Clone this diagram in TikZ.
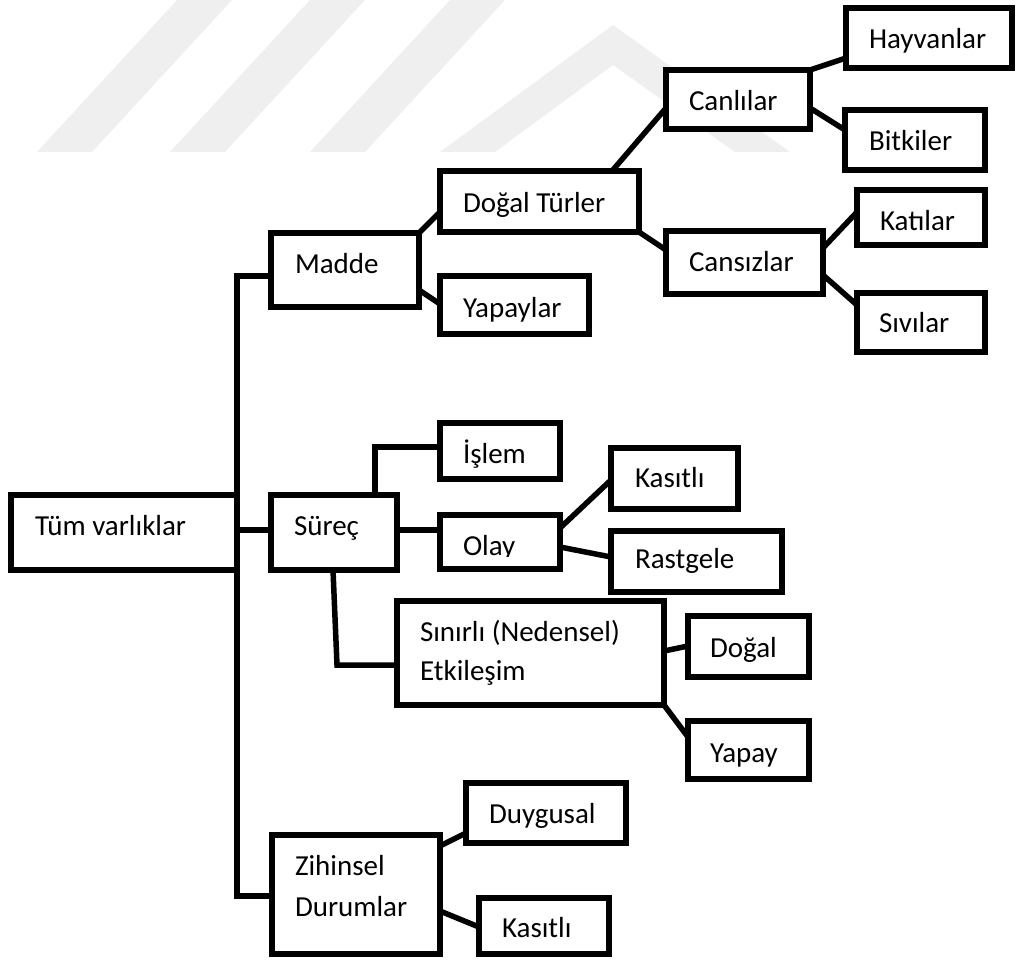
\documentclass[tikz,border=0pt]{standalone}
\usepackage{fontspec}
\setmainfont{Carlito}
\definecolor{wm}{HTML}{EFEFEF}
\begin{document}
\begin{tikzpicture}[x=1pt,y=-1pt]
\tikzset{
 box/.style={draw=black, fill=white, line width=5.8pt, inner sep=0pt, outer sep=0pt},
 conn/.style={draw=black, line width=5.5pt},
 lbl/.style={anchor=base west, inner sep=0pt, outer sep=0pt, font=\fontsize{29}{35}\selectfont},
 wmark/.style={fill=wm, draw=none}
}
\useasboundingbox (0,0) rectangle (1016,959);
% watermark
\fill[wmark] (37,152) -- (92,152) -- (232,0) -- (177,0) -- cycle;
\fill[wmark] (170,152) -- (225,152) -- (365,0) -- (310,0) -- cycle;
\fill[wmark] (310,152) -- (365,152) -- (505,0) -- (450,0) -- cycle;
\fill[wmark] (440,152) -- (613,25) -- (790,152) -- (735,152) -- (613,65) -- (495,152) -- cycle;

% boxes
\node[box, minimum width=226pt, minimum height=75pt] (tum) at (124,532.5) {};
\node[box, minimum width=148pt, minimum height=74pt] (madde) at (345,270) {};
\node[box, minimum width=199pt, minimum height=61pt] (dogal) at (539.5,201.5) {};
\node[box, minimum width=149pt, minimum height=58pt] (yapaylar) at (514.5,305) {};
\node[box, minimum width=144pt, minimum height=59pt] (canlilar) at (738,99.5) {};
\node[box, minimum width=166pt, minimum height=60pt] (hayvanlar) at (929,38) {};
\node[box, minimum width=140pt, minimum height=60pt] (bitkiler) at (915,140) {};
\node[box, minimum width=157pt, minimum height=63pt] (cansizlar) at (744.5,262.5) {};
\node[box, minimum width=128pt, minimum height=55pt] (katilar) at (921,217.5) {};
\node[box, minimum width=128pt, minimum height=59pt] (sivilar) at (921,322.5) {};
\node[box, minimum width=126pt, minimum height=75pt] (surec) at (334,532.5) {};
\node[box, minimum width=120pt, minimum height=56pt] (islem) at (500,451) {};
\node[box, minimum width=120pt, minimum height=54pt] (olay) at (500,542) {};
\node[box, minimum width=127pt, minimum height=61pt] (kasitlia) at (674.5,478.5) {};
\node[box, minimum width=171pt, minimum height=61pt] (rastgele) at (696.5,561.5) {};
\node[box, minimum width=267pt, minimum height=104pt] (sinirli) at (530.5,653) {};
\node[box, minimum width=121pt, minimum height=61pt] (dogalb) at (748.5,646.5) {};
\node[box, minimum width=121pt, minimum height=58pt] (yapay) at (748.5,750) {};
\node[box, minimum width=160pt, minimum height=60pt] (duygusal) at (546,813) {};
\node[box, minimum width=168pt, minimum height=119pt] (zihinsel) at (356,894.5) {};
\node[box, minimum width=130pt, minimum height=56pt] (kasitlib) at (544,926) {};

% labels
\node[lbl] (ttum) at (35,535) {Tüm varlıklar};
\node[lbl] (tmadde) at (295,273) {Madde};
\node[lbl] (tdogal) at (463,212) {Doğal Türler};
\node[lbl] (tyapaylar) at (463,317) {Yapaylar};
\node[lbl] (tcanlilar) at (689,110) {Canlılar};
\node[lbl] (thayvanlar) at (869,48) {Hayvanlar};
\node[lbl] (tbitkiler) at (869,150) {Bitkiler};
\node[lbl] (tcansizlar) at (689,271) {Cansızlar};
\node[lbl] (tkatilar) at (880,230) {Katılar};
\node[lbl] (tsivilar) at (879,332) {Sıvılar};
\node[lbl] (tsurec) at (294,535) {Süreç};
\node[lbl] (tislem) at (463,463) {İşlem};
\begin{scope}
\clip (437,512) rectangle (563,556);
\node[lbl] (tolay) at (463,555) {Olay};
\end{scope}
\node[lbl] (tkasitlia) at (635,487) {Kasıtlı};
\node[lbl] (trastgele) at (635,568) {Rastgele};
\node[lbl] (tsinirli) at (420,641) {Sınırlı (Nedensel)};
\node[lbl] (tetki) at (420,680) {Etkileşim};
\node[lbl] (tdogalb) at (710,657) {Doğal};
\node[lbl] (tyapay) at (710,762) {Yapay};
\node[lbl] (tduygusal) at (489,823) {Duygusal};
\node[lbl] (tzihinsel) at (295,875) {Zihinsel};
\node[lbl] (tdurumlar) at (295,916) {Durumlar};
\node[lbl] (tkasitlib) at (502,937) {Kasıtlı};

% connectors
\coordinate (vtop) at (237,276);
\coordinate (vbot) at (237,896);
\draw[conn] (madde.west |- vtop) -- (vtop) -- (vbot) -- (zihinsel.west |- vbot);
\draw[conn] (tum.east |- 0,530) -- (surec.west |- 0,530);
\draw[conn] (madde.north east) -- (dogal.west |- 0,212);
\draw[conn] (madde.east |- 0,290) -- (yapaylar.west |- 0,304);
\draw[conn] (612,0 |- dogal.north) -- (canlilar.west |- 0,108);
\draw[conn] (dogal.south east) -- (cansizlar.west |- 0,250);
\draw[conn] (canlilar.north east) -- (hayvanlar.west |- 0,58);
\draw[conn] (canlilar.east |- 0,108) -- (bitkiler.west |- 0,130);
\draw[conn] (cansizlar.east |- 0,248) -- (katilar.west |- 0,212);
\draw[conn] (cansizlar.east |- 0,275) -- (sivilar.west |- 0,305);
\coordinate (ic) at (375,447);
\draw[conn] (ic |- surec.north) -- (ic) -- (islem.west |- ic);
\draw[conn] (surec.east |- 0,530) -- (olay.west |- 0,530);
\draw[conn] (olay.east |- 0,528) -- (kasitlia.west |- 0,480);
\draw[conn] (olay.east |- 0,547) -- (rastgele.west |- 0,557);
\coordinate (sc) at (337,665);
\draw[conn] (333,0 |- surec.south) -- (sc) -- (sinirli.west |- sc);
\draw[conn] (sinirli.east |- 0,651) -- (dogalb.west |- 0,646);
\draw[conn] (sinirli.south east) -- (yapay.west |- 0,737);
\draw[conn] (zihinsel.east |- 0,846) -- (duygusal.west |- 0,833);
\draw[conn] (zihinsel.east |- 0,911) -- (kasitlib.west |- 0,927);
\end{tikzpicture}
\end{document}
